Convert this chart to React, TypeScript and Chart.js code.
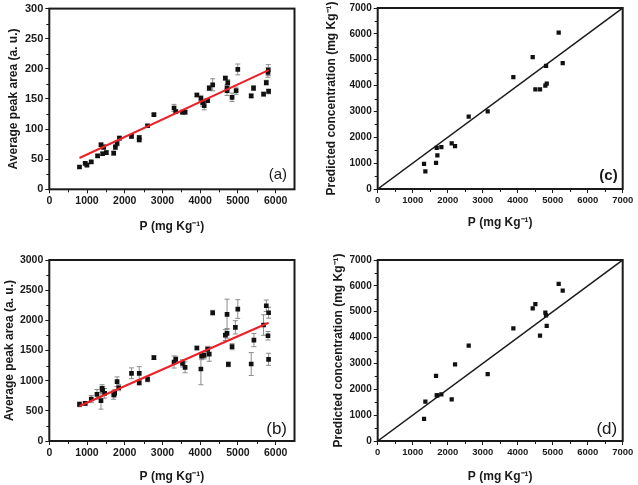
import React, { useEffect, useRef } from 'react';
import { Chart, registerables } from 'chart.js';
Chart.register(...registerables);

// ---------- data ----------
// panel (a): calibration, average peak area vs P
const pA = [800, 952, 997, 1112, 1280, 1371, 1413, 1440, 1512, 1707, 1752, 1797, 1859, 2179, 2384, 2384, 2605, 2773, 3307, 3352, 3531, 3600, 3912, 4019, 4064, 4107, 4197, 4240, 4331, 4667, 4731, 4712, 4712, 4845, 4952, 4997, 5352, 5414, 5680, 5752, 5813, 5797, 5805];
const yA = [37, 43, 40, 45.5, 55.4, 74, 59, 70, 61, 60, 70, 76, 85, 88, 86, 82, 105.5, 124, 135, 129, 128, 128, 156.6, 151, 144, 139, 147, 168, 173.5, 184.6, 177, 168, 163.6, 152.6, 163.7, 199, 155, 168, 158, 177, 162.5, 194, 198];
const errA = [2, 2, 2, 2, 2, 3, 3, 4, 3, 3, 4, 4, 3, 3, 3, 3, 2, 2, 6, 3, 3, 3, 3, 5, 6, 7, 3, 4, 10, 3, 5, 6, 8, 7, 6, 9, 3, 4, 3, 4, 4, 8, 9];
const fitAX = [800, 5813];
const fitAY = [52, 198];

// panel (b)
const pB = [800, 952, 1112, 1264, 1370, 1397, 1413, 1467, 1707, 1733, 1797, 1840, 2179, 2384, 2384, 2605, 2773, 3307, 3352, 3531, 3600, 3912, 4019, 4037, 4107, 4197, 4240, 4331, 4667, 4712, 4712, 4747, 4845, 4933, 4997, 5352, 5424, 5680, 5752, 5813, 5797, 5813];
const yB = [608, 625, 696, 774, 668, 873, 845, 790, 762, 790, 983, 883, 1122, 1122, 966, 1022, 1381, 1309, 1354, 1287, 1221, 1541, 1193, 1408, 1420, 1519, 1441, 2126, 1756, 1785, 2100, 1271, 1563, 1884, 2187, 1276, 1673, 1922, 2242, 2126, 1745, 1354];
const errB = [40, 30, 60, 80, 140, 60, 60, 80, 70, 60, 80, 50, 90, 110, 40, 40, 30, 100, 50, 60, 90, 30, 260, 60, 60, 50, 120, 40, 90, 80, 250, 40, 50, 110, 155, 190, 110, 170, 95, 90, 70, 100];
const fitBX = [800, 5813];
const fitBY = [580, 1960];

// panels (c) and (d): predicted vs reference P for the test samples
const pTest = [1324, 1362, 1667, 1705, 1686, 1819, 2114, 2210, 2600, 3143, 3876, 4429, 4505, 4638, 4790, 4829, 4810, 5171, 5286];
const predC = [976, 681, 1015, 1297, 1593, 1618, 1760, 1657, 2800, 3005, 4328, 5099, 3853, 3853, 3994, 4071, 4765, 6049, 4868];
const predD = [851, 1521, 2514, 1766, 1766, 1805, 1611, 2965, 3687, 2591, 4357, 5131, 5298, 4074, 4963, 4448, 4860, 6072, 5814];
const idealX = [0, 7000];
const idealY = [0, 7000];

// tick values
const xTicksAB = [0, 1000, 2000, 3000, 4000, 5000, 6000];
const yTicksA = [0, 50, 100, 150, 200, 250, 300];
const yTicksB = [0, 500, 1000, 1500, 2000, 2500, 3000];
const ticksCD = [0, 1000, 2000, 3000, 4000, 5000, 6000, 7000];

const xTitle = 'P (mg Kg⁻¹)';
const yTitleAB = 'Average peak area (a. u.)';
const yTitleCD = 'Predicted concentration (mg Kg⁻¹)';

// ---------- helpers ----------
const FONT = "'Liberation Sans', Arial, Helvetica, sans-serif";
const INK = '#1a1a1a';

const pts = (xs: number[], ys: number[]) => xs.map((x, i) => ({ x, y: ys[i] }));

const framePlugin = {
  id: 'frame',
  beforeDatasetsDraw(chart: any) {
    const { ctx } = chart;
    const xs = chart.scales.x, ys = chart.scales.y;
    chart.data.datasets.forEach((ds: any) => {
      if (!ds.errors) return;
      ctx.save();
      ctx.strokeStyle = '#8c8c8c';
      ctx.lineWidth = 1;
      ds.data.forEach((p: any, i: number) => {
        const e = ds.errors[i];
        if (!e) return;
        const x = xs.getPixelForValue(p.x);
        const y1 = ys.getPixelForValue(p.y + e);
        const y2 = ys.getPixelForValue(p.y - e);
        ctx.beginPath();
        ctx.moveTo(x, y1); ctx.lineTo(x, y2);
        ctx.moveTo(x - 2.5, y1); ctx.lineTo(x + 2.5, y1);
        ctx.moveTo(x - 2.5, y2); ctx.lineTo(x + 2.5, y2);
        ctx.stroke();
      });
      ctx.restore();
    });
  },
  afterDraw(chart: any, _args: any, opts: any) {
    const { ctx, chartArea: a } = chart;
    const xs = chart.scales.x, ys = chart.scales.y;
    ctx.save();
    ctx.strokeStyle = INK;
    ctx.lineWidth = 2;
    ctx.strokeRect(a.left, a.top, a.right - a.left, a.bottom - a.top);
    ctx.lineWidth = 1;
    ctx.beginPath();
    for (let v = xs.min + opts.xMinor; v < xs.max; v += opts.xMinor) {
      if (Math.abs(v % opts.xStep) < 1e-6) continue;
      const px = Math.round(xs.getPixelForValue(v)) + 0.5;
      ctx.moveTo(px, a.bottom);
      ctx.lineTo(px, a.bottom + 3);
    }
    for (let v = ys.min + opts.yMinor; v < ys.max; v += opts.yMinor) {
      if (Math.abs(v % opts.yStep) < 1e-6) continue;
      const py = Math.round(ys.getPixelForValue(v)) + 0.5;
      ctx.moveTo(a.left, py);
      ctx.lineTo(a.left - 3, py);
    }
    ctx.stroke();
    ctx.font = opts.tagFont;
    ctx.fillStyle = INK;
    ctx.textAlign = 'right';
    ctx.textBaseline = 'alphabetic';
    ctx.fillText(opts.tag, a.right - opts.tagDx, a.bottom - opts.tagDy);
    ctx.restore();
  },
};

type PanelCfg = {
  left: number; top: number; w: number; h: number;
  plot: [number, number, number, number];
  xMax: number; xTicks: number[]; xStep: number; xMinor: number;
  yMax: number; yTicks: number[]; yStep: number; yMinor: number;
  yTitle: string; yTitleCx: number; xTitleCy: number;
  xTickSize: number; yTickSize: number;
  tag: string; tagFont: string; tagDx: number; tagDy: number;
  datasets: any[];
};

const TITLE_SIZE = 12;
const TITLE_LH = TITLE_SIZE * 1.2;

function Panel({ cfg }: { cfg: PanelCfg }) {
  const ref = useRef<HTMLCanvasElement | null>(null);
  useEffect(() => {
    if (!ref.current) return;
    const [L, T, R, B] = cfg.plot;
    const chart = new Chart(ref.current, {
      type: 'scatter',
      data: { datasets: cfg.datasets },
      plugins: [framePlugin],
      options: {
        responsive: false,
        animation: false,
        devicePixelRatio: 1,
        layout: { padding: { left: 0, top: T, right: cfg.w - R, bottom: 0 } },
        plugins: {
          legend: { display: false },
          tooltip: { enabled: false },
          frame: {
            xMinor: cfg.xMinor, xStep: cfg.xStep, yMinor: cfg.yMinor, yStep: cfg.yStep,
            tag: cfg.tag, tagFont: cfg.tagFont, tagDx: cfg.tagDx, tagDy: cfg.tagDy,
          },
        } as any,
        scales: {
          x: {
            type: 'linear',
            min: 0, max: cfg.xMax,
            afterFit: (s: any) => { s.height = cfg.h - B; },
            afterBuildTicks: (s: any) => { s.ticks = cfg.xTicks.map((v) => ({ value: v })); },
            border: { display: false },
            grid: { display: true, drawOnChartArea: false, drawTicks: true, tickLength: 4, color: INK, lineWidth: 1 },
            ticks: {
              maxRotation: 0, minRotation: 0, autoSkip: false,
              padding: 2, color: INK,
              font: { family: FONT, size: cfg.xTickSize, weight: 'bold' },
              callback: (v: any) => String(v),
            },
            title: {
              display: true, text: xTitle, color: INK,
              font: { family: FONT, size: TITLE_SIZE, weight: 'bold' },
              padding: { top: 0, bottom: cfg.h - cfg.xTitleCy - TITLE_LH / 2 },
            },
          },
          y: {
            type: 'linear',
            min: 0, max: cfg.yMax,
            afterFit: (s: any) => { s.width = L; },
            afterBuildTicks: (s: any) => { s.ticks = cfg.yTicks.map((v) => ({ value: v })); },
            border: { display: false },
            grid: { display: true, drawOnChartArea: false, drawTicks: true, tickLength: 4, color: INK, lineWidth: 1 },
            ticks: {
              autoSkip: false,
              padding: 2, color: INK,
              font: { family: FONT, size: cfg.yTickSize, weight: 'bold' },
              callback: (v: any) => String(v),
            },
            title: {
              display: true, text: cfg.yTitle, color: INK,
              font: { family: FONT, size: TITLE_SIZE, weight: 'bold' },
              padding: { top: cfg.yTitleCx - TITLE_LH / 2, bottom: 0 },
            },
          },
        },
      } as any,
    });
    return () => chart.destroy();
  }, [cfg]);
  return (
    <canvas
      ref={ref}
      width={cfg.w}
      height={cfg.h}
      style={{ position: 'absolute', left: cfg.left, top: cfg.top, width: cfg.w, height: cfg.h }}
    />
  );
}

const scatterDs = (xs: number[], ys: number[], errs: number[] | null, r: number) => ({
  data: pts(xs, ys),
  errors: errs,
  pointStyle: 'rect',
  pointRadius: r,
  pointHoverRadius: r,
  backgroundColor: '#111111',
  borderWidth: 0,
  showLine: false,
});
const lineDs = (xs: number[], ys: number[], color: string, width: number) => ({
  data: pts(xs, ys),
  borderColor: color,
  backgroundColor: color,
  borderWidth: width,
  pointRadius: 0,
  pointHoverRadius: 0,
  showLine: true,
  fill: false,
});

const RED = '#ec2027';

const panels: PanelCfg[] = [
  {
    left: 0, top: 0, w: 320, h: 240, plot: [49.3, 7.3, 294.5, 189.3],
    xMax: 6500, xTicks: xTicksAB, xStep: 1000, xMinor: 500,
    yMax: 300, yTicks: yTicksA, yStep: 50, yMinor: 25,
    yTitle: yTitleAB, yTitleCx: 13.3, xTitleCy: 226.7, xTickSize: 10.5, yTickSize: 11,
    tag: '(a)', tagFont: `15px ${FONT}`, tagDx: 7.5, tagDy: 10,
    datasets: [lineDs(fitAX, fitAY, RED, 2), scatterDs(pA, yA, errA, 3.3)],
  },
  {
    left: 320, top: 0, w: 318, h: 240, plot: [57.7, 7.3, 302.7, 189],
    xMax: 7000, xTicks: ticksCD, xStep: 1000, xMinor: 500,
    yMax: 7000, yTicks: ticksCD, yStep: 1000, yMinor: 500,
    yTitle: yTitleCD, yTitleCx: 11.7, xTitleCy: 223, xTickSize: 9.5, yTickSize: 10,
    tag: '(c)', tagFont: `bold 15px ${FONT}`, tagDx: 5, tagDy: 9,
    datasets: [scatterDs(pTest, predC, null, 3), lineDs(idealX, idealY, INK, 1.5)],
  },
  {
    left: 0, top: 240, w: 320, h: 245, plot: [49.3, 20, 294.5, 201],
    xMax: 6500, xTicks: xTicksAB, xStep: 1000, xMinor: 500,
    yMax: 3000, yTicks: yTicksB, yStep: 500, yMinor: 250,
    yTitle: yTitleAB, yTitleCx: 10, xTitleCy: 236.7, xTickSize: 10.5, yTickSize: 10.5,
    tag: '(b)', tagFont: `17px ${FONT}`, tagDx: 7.5, tagDy: 7.5,
    datasets: [lineDs(fitBX, fitBY, RED, 2), scatterDs(pB, yB, errB, 3.3)],
  },
  {
    left: 320, top: 240, w: 318, h: 245, plot: [57.7, 20, 302.7, 201],
    xMax: 7000, xTicks: ticksCD, xStep: 1000, xMinor: 500,
    yMax: 7000, yTicks: ticksCD, yStep: 1000, yMinor: 500,
    yTitle: yTitleCD, yTitleCx: 18.3, xTitleCy: 236.7, xTickSize: 9.5, yTickSize: 10,
    tag: '(d)', tagFont: `17px ${FONT}`, tagDx: 5.5, tagDy: 7.5,
    datasets: [scatterDs(pTest, predD, null, 3), lineDs(idealX, idealY, INK, 1.5)],
  },
];

export default function App() {
  return (
    <div style={{ position: 'fixed', left: 0, top: 0, width: 638, height: 485, background: '#ffffff', overflow: 'hidden' }}>
      {panels.map((p, i) => <Panel key={i} cfg={p} />)}
    </div>
  );
}
